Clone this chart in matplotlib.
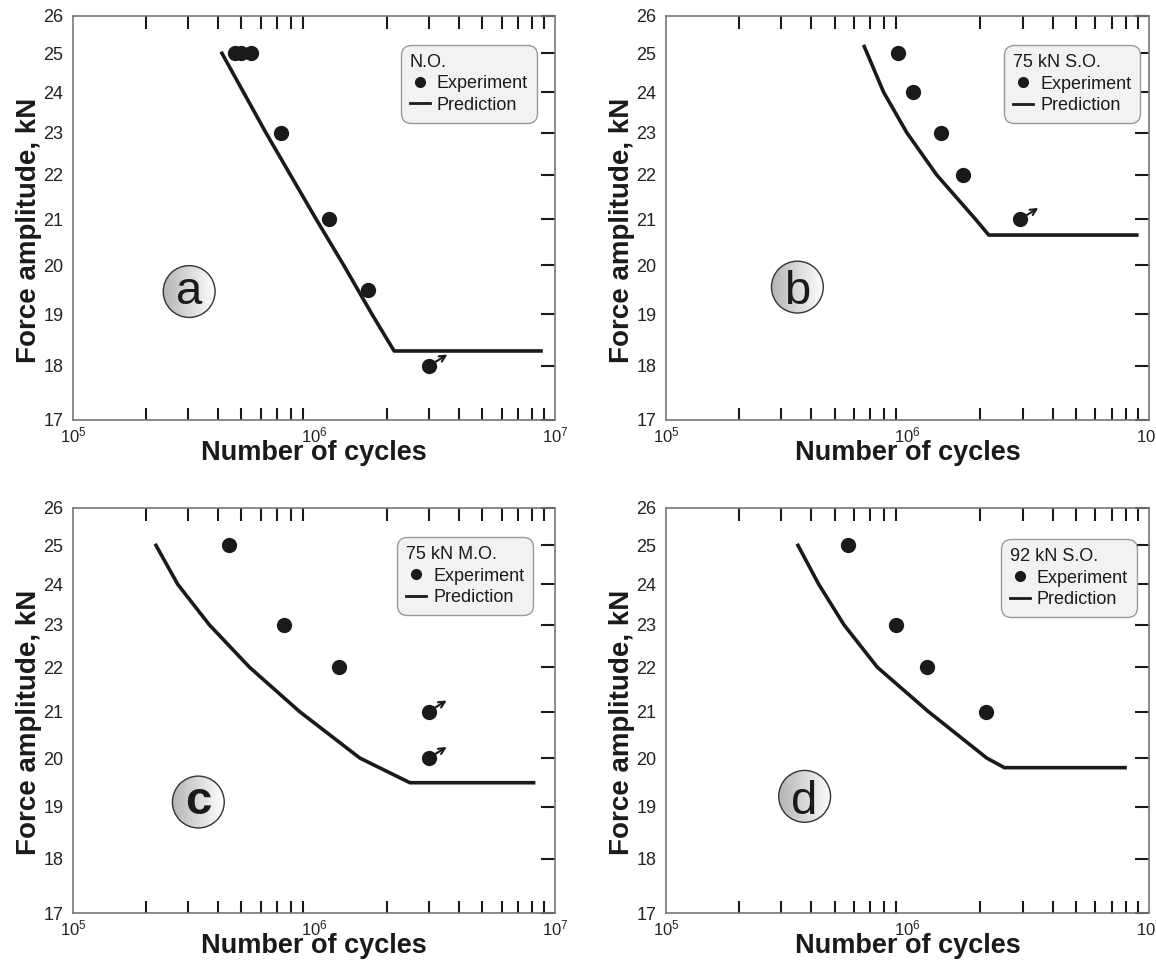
import numpy as np
import matplotlib
matplotlib.use("Agg")
import matplotlib.pyplot as plt
from matplotlib.lines import Line2D
from matplotlib.patches import Circle
from matplotlib.ticker import FixedLocator, FixedFormatter, LogLocator, NullLocator, NullFormatter

plt.rcParams["font.family"] = ["Liberation Sans", "DejaVu Sans"]
plt.rcParams["mathtext.fontset"] = "custom"
plt.rcParams["mathtext.rm"] = "Liberation Sans"
plt.rcParams["mathtext.it"] = "Liberation Sans:italic"

INK = "#1a1a1a"

# (a) N.O.
a_exp_n = [4.72e5, 4.98e5, 5.5e5, 7.27e5, 1.15e6, 1.68e6, 3.01e6]
a_exp_s = [25, 25, 25, 23, 21, 19.5, 18]
a_runout = [0, 0, 0, 0, 0, 0, 1]
a_pred_n = [4.15e5, 6.31e5, 1.02e6, 1.33e6, 1.74e6, 2.15e6, 8.75e6]
a_pred_s = [25, 23, 21, 20, 19, 18.28, 18.28]

# (b) 75 kN S.O.
b_exp_n = [9.1e5, 1.05e6, 1.38e6, 1.69e6, 2.93e6]
b_exp_s = [25, 24, 23, 22, 21]
b_runout = [0, 0, 0, 0, 1]
b_pred_n = [6.62e5, 7.96e5, 9.93e5, 1.32e6, 1.91e6, 2.17e6, 8.9e6]
b_pred_s = [25.18, 24, 23, 22, 21, 20.65, 20.65]

# (c) 75 kN M.O.
c_exp_n = [4.42e5, 7.54e5, 1.27e6, 2.99e6, 2.99e6]
c_exp_s = [25, 23, 22, 21, 20]
c_runout = [0, 0, 0, 1, 1]
c_pred_n = [2.21e5, 2.72e5, 3.68e5, 5.40e5, 8.71e5, 1.55e6, 2.50e6, 8.15e6]
c_pred_s = [25, 24, 23, 22, 21, 20, 19.49, 19.49]

# (d) 92 kN S.O.
d_exp_n = [5.68e5, 8.98e5, 1.21e6, 2.11e6]
d_exp_s = [25, 23, 22, 21]
d_runout = [0, 0, 0, 0]
d_pred_n = [3.52e5, 4.29e5, 5.46e5, 7.50e5, 1.22e6, 2.13e6, 2.52e6, 7.96e6]
d_pred_s = [25, 24, 23, 22, 21, 20, 19.8, 19.8]

y_ticks = list(range(17, 27))
x_ticks = [1e5, 1e6, 1e7]
x_labels = [r"$10^{5}$", r"$10^{6}$", r"$10^{7}$"]

W, H = 1156, 964
fig = plt.figure(figsize=(W / 100, H / 100), dpi=100)


def panel(rect, exp_n, exp_s, runout, pred_n, pred_s, tag, tag_xy, title, leg_xy):
    l, t, r, b = rect
    ax = fig.add_axes([l / W, 1 - b / H, (r - l) / W, (b - t) / H])
    ax.set_xscale("log")
    ax.set_yscale("log")
    ax.plot(pred_n, pred_s, color=INK, lw=2.6)
    ax.plot(exp_n, exp_s, "o", color=INK, ms=11, mew=0)
    for n, s, ro in zip(exp_n, exp_s, runout):
        if ro:
            ax.annotate("", xy=(n, s), xytext=(13, 8), textcoords="offset points",
                        arrowprops=dict(arrowstyle="<-", lw=1.5, color=INK,
                                        shrinkA=0, shrinkB=2, mutation_scale=11))
    ax.set_xlim(1e5, 1e7)
    ax.set_ylim(17, 26)

    ax.xaxis.set_major_locator(FixedLocator(x_ticks))
    ax.xaxis.set_major_formatter(FixedFormatter(x_labels))
    ax.xaxis.set_minor_locator(LogLocator(base=10, subs=np.arange(2, 10), numticks=20))
    ax.xaxis.set_minor_formatter(NullFormatter())
    ax.yaxis.set_major_locator(FixedLocator(y_ticks))
    ax.yaxis.set_major_formatter(FixedFormatter([str(v) for v in y_ticks]))
    ax.yaxis.set_minor_locator(NullLocator())
    ax.tick_params(axis="x", which="major", length=0, pad=4, labelsize=12, labelcolor="#222222")
    ax.tick_params(axis="x", which="minor", direction="in", top=True, bottom=True,
                   length=9, width=1.5, color=INK)
    ax.tick_params(axis="y", which="major", direction="in", left=False, right=True,
                   length=10, width=1.5, color=INK, labelsize=13, pad=7, labelcolor="#222222")
    for sp in ax.spines.values():
        sp.set_color("#777777")
        sp.set_linewidth(1.2)

    ax.set_xlabel("Number of cycles", fontsize=19.5, fontweight="bold", color=INK)
    ax.set_ylabel("Force amplitude, kN", fontsize=20, fontweight="bold", color=INK)
    ax.xaxis.set_label_coords(0.5, -0.05)
    ax.yaxis.set_label_coords(-0.065, 0.47)

    # legend box
    hs = [Line2D([], [], ls="none", marker="o", ms=7, color=INK),
          Line2D([], [], color=INK, lw=2)]
    leg = ax.legend(hs, ["Experiment", "Prediction"], title=title, loc="upper left",
                    bbox_to_anchor=leg_xy, fontsize=13, title_fontsize=13, alignment="left",
                    fancybox=True, handlelength=1.1, handletextpad=0.4, labelspacing=0.25,
                    borderpad=0.5, borderaxespad=0, framealpha=1)
    fr = leg.get_frame()
    fr.set_facecolor("#f2f2f2")
    fr.set_edgecolor("#9a9a9a")
    fr.set_linewidth(1.0)
    fr.set_boxstyle("round", pad=0, rounding_size=0.55)
    for txt in leg.get_texts() + [leg.get_title()]:
        txt.set_color(INK)

    # circled panel letter
    d = 54
    w, h = d / (r - l), d / (b - t)
    ins = ax.inset_axes([tag_xy[0] - w / 2, tag_xy[1] - h / 2, w, h])
    ins.set_axis_off()
    grad = np.linspace(0.70, 1.0, 256).reshape(1, -1)
    im = ins.imshow(grad, cmap="gray", vmin=0, vmax=1, extent=[0, 1, 0, 1], aspect="auto")
    circ = Circle((0.5, 0.5), 0.48, transform=ins.transData, fc="none", ec="#333333", lw=1)
    ins.add_patch(circ)
    im.set_clip_path(circ)
    ins.set_xlim(0, 1)
    ins.set_ylim(0, 1)
    em = 34 * 100 / 72
    tall = 0.73 if tag in "bd" else 0.52
    ins.text(0.5, 0.5 - tall * em / 2 / d, tag, ha="center", va="baseline", fontsize=34,
             color=INK, fontweight="bold" if tag == "c" else "normal")
    return ax


panel((73, 16, 555, 420), a_exp_n, a_exp_s, a_runout, a_pred_n, a_pred_s,
      "a", (0.241, 0.318), "N.O.", (0.680, 0.929))
panel((666, 16, 1149, 420), b_exp_n, b_exp_s, b_runout, b_pred_n, b_pred_s,
      "b", (0.272, 0.329), "75 kN S.O.", (0.700, 0.928))
panel((73, 508, 555, 913), c_exp_n, c_exp_s, c_runout, c_pred_n, c_pred_s,
      "c", (0.26, 0.274), "75 kN M.O.", (0.672, 0.928))
panel((666, 508, 1149, 913), d_exp_n, d_exp_s, d_runout, d_pred_n, d_pred_s,
      "d", (0.287, 0.288), "92 kN S.O.", (0.693, 0.923))

fig.savefig("out.png", dpi=100)
